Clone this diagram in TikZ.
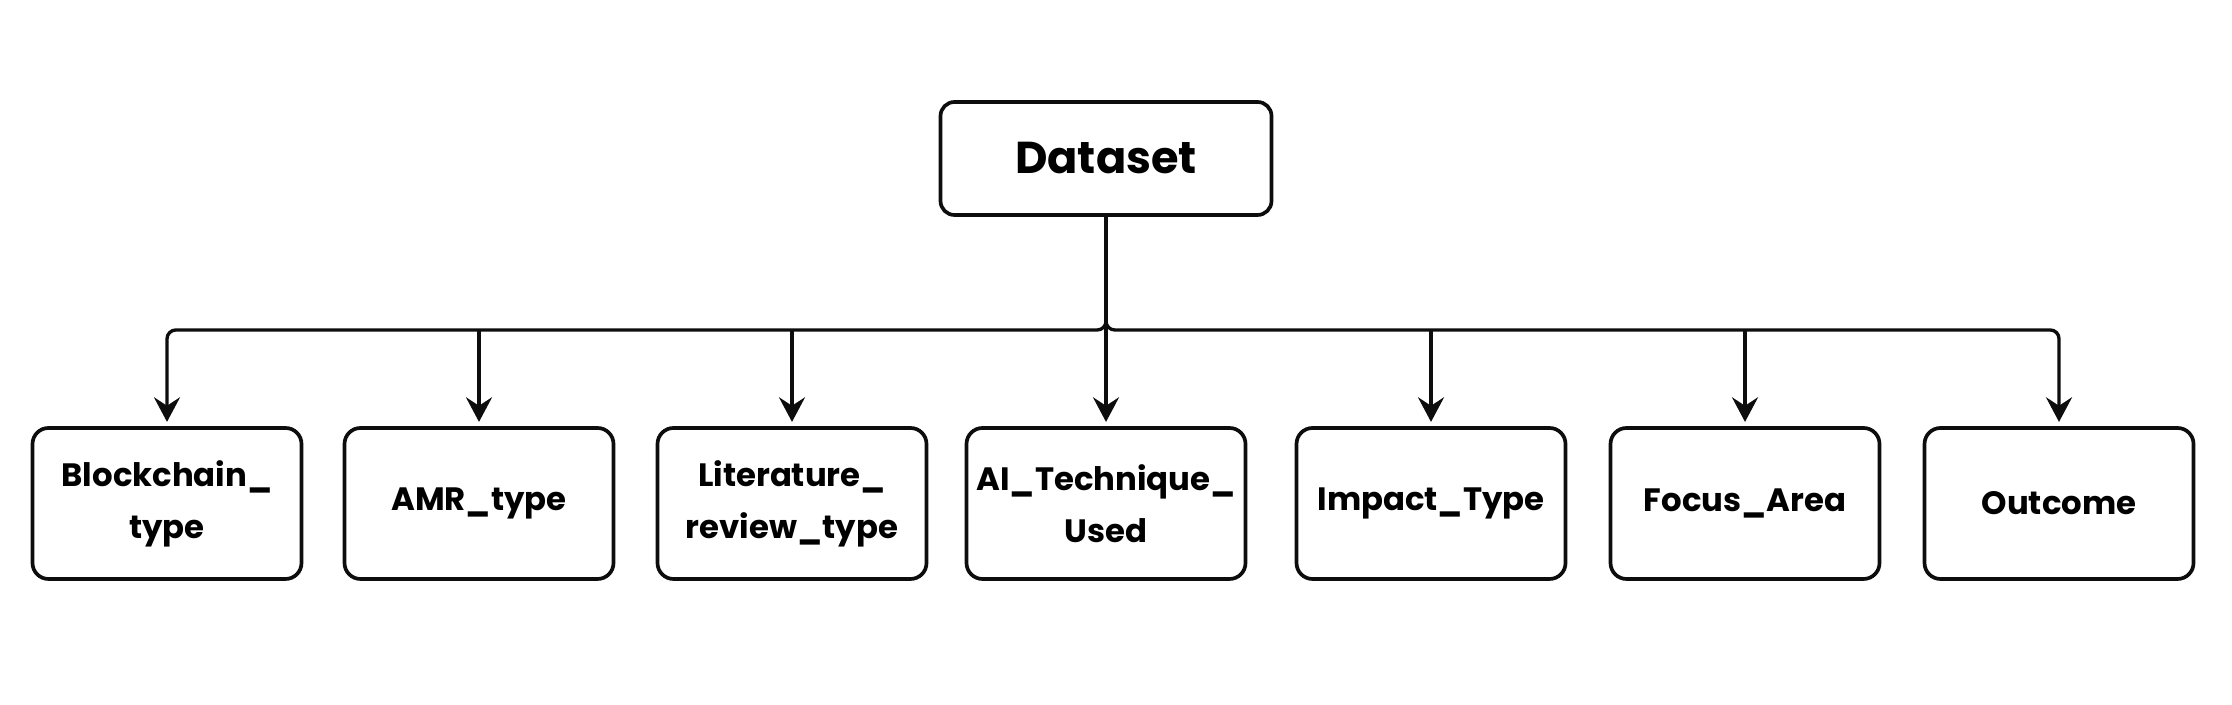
\documentclass[tikz,border=0pt]{standalone}
\usepackage{fontspec}
\setmainfont{Poppins}
\usepackage{tikz}
\usepackage{xcolor}
\usetikzlibrary{arrows.meta}
\definecolor{boxline}{rgb}{0.05, 0.05, 0.05}

\begin{document}
\begin{tikzpicture}[scale=1,
  rootbox/.style={draw=boxline, line width=1.05pt, rounded corners=0.14cm, minimum width=3.31cm, minimum height=1.13cm, font=\fontsize{12.7}{16}\selectfont\bfseries},
  leafbox/.style={draw=boxline, line width=1.05pt, rounded corners=0.16cm, minimum width=2.69cm, minimum height=1.51cm, inner xsep=2pt, align=center, font=\fontsize{9.2}{14.8}\selectfont\bfseries},
  link/.style={draw=boxline, line width=0.95pt, -{Stealth[length=7pt, width=7.4pt, inset=2.4pt]}, shorten >=1.2pt}]
\useasboundingbox (0,0) rectangle (22.32,7.05);
\node[rootbox] (dataset) at (11.06,5.465) {Dataset};
\coordinate (bus) at (11.06,3.75);
\node[leafbox] (blockchain) at (1.67,2.015) {Blockchain\_\\type};
\node[leafbox] (amr) at (4.79,2.015) {AMR\_type};
\node[leafbox] (literature) at (7.92,2.015) {Literature\_\\review\_type};
\node[leafbox, minimum width=2.79cm] (aitech) at (11.06,2.015) {AI\_Technique\_\\Used};
\node[leafbox] (impact) at (14.31,2.015) {Impact\_Type};
\node[leafbox] (focus) at (17.45,2.015) {Focus\_Area};
\node[leafbox] (outcome) at (20.59,2.015) {Outcome};
\draw[link] (dataset.south) -- (aitech.north);
\draw[link, rounded corners=2.5pt] (dataset.south) |- (blockchain.north |- bus) -- (blockchain.north);
\draw[link, rounded corners=2.5pt] (dataset.south) |- (outcome.north |- bus) -- (outcome.north);
\draw[link] (amr.north |- bus) -- (amr.north);
\draw[link] (literature.north |- bus) -- (literature.north);
\draw[link] (impact.north |- bus) -- (impact.north);
\draw[link] (focus.north |- bus) -- (focus.north);
\end{tikzpicture}
\end{document}
